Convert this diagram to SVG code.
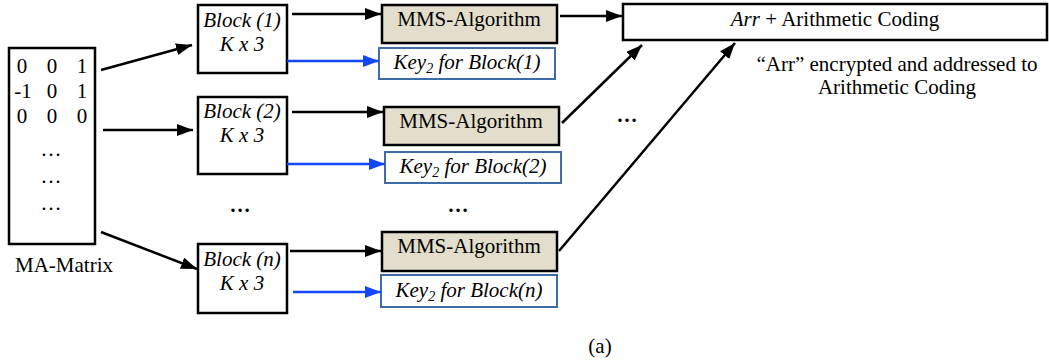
<svg xmlns="http://www.w3.org/2000/svg" width="1049" height="363" viewBox="0 0 1049 363">
<defs>
<marker id="ah" markerUnits="userSpaceOnUse" markerWidth="18" markerHeight="14" refX="16" refY="6" orient="auto">
<path d="M0,0 L16,6 L0,12 z" fill="#000"/>
</marker>
<marker id="ahb" markerUnits="userSpaceOnUse" markerWidth="18" markerHeight="14" refX="16" refY="6" orient="auto">
<path d="M0,0 L16,6 L0,12 z" fill="#1446F5"/>
</marker>
<style>
text{font-family:"Liberation Serif","Times New Roman",serif;font-size:21px;fill:#000}
.it{font-style:italic}
.c{text-anchor:middle}
.box{fill:#fff;stroke:#000;stroke-width:2.5}
.mms{fill:#E3DECC;stroke:#000;stroke-width:2.5}
.key{fill:#fff;stroke:#3E6CA8;stroke-width:2}
.ln{stroke:#000;stroke-width:2.5;fill:none;marker-end:url(#ah)}
.lnp{stroke:#000;stroke-width:2.5;fill:none}
.bl{stroke:#1446F5;stroke-width:2.5;fill:none;marker-end:url(#ahb)}
.dots{font-weight:bold}
</style>
</defs>
<rect width="1049" height="363" fill="#fff"/>

<g id="matrix">
<rect class="box" x="9" y="48" width="86" height="196" stroke-width="2"/>
<text class="c" x="22" y="73">0</text><text class="c" x="52" y="73">0</text><text class="c" x="82" y="73">1</text>
<text class="c" x="23" y="98">-1</text><text class="c" x="52" y="98">0</text><text class="c" x="82" y="98">1</text>
<text class="c" x="22" y="123">0</text><text class="c" x="52" y="123">0</text><text class="c" x="82" y="123">0</text>
<text class="c" x="51" y="156">…</text>
<text class="c" x="51" y="183">…</text>
<text class="c" x="51" y="210">…</text>
<text class="c" x="64" y="272">MA-Matrix</text>
</g>

<g id="block1">
<rect class="box" x="198" y="5" width="89" height="68"/>
<text class="c it" x="242" y="27">Block (1)</text>
<text class="c it" x="242" y="51">K x 3</text>
</g>
<g id="block2">
<rect class="box" x="198" y="97" width="89" height="77"/>
<text class="c it" x="242" y="118">Block (2)</text>
<text class="c it" x="242" y="142">K x 3</text>
</g>
<g id="blockn">
<rect class="box" x="198" y="244" width="89" height="69"/>
<text class="c it" x="242" y="266">Block (n)</text>
<text class="c it" x="242" y="290">K x 3</text>
</g>

<g id="mms1">
<rect class="mms" x="382" y="5" width="175" height="38"/>
<text class="c" x="469" y="26">MMS-Algorithm</text>
</g>
<g id="key1">
<rect class="key" x="379" y="48" width="176" height="31"/>
<text class="c it" x="467" y="69">Key<tspan font-size="14" dy="4">2</tspan><tspan dy="-4"> for Block(1)</tspan></text>
</g>
<g id="mms2">
<rect class="mms" x="384" y="107" width="175" height="38"/>
<text class="c" x="471" y="128">MMS-Algorithm</text>
</g>
<g id="key2">
<rect class="key" x="385" y="152" width="176" height="31"/>
<text class="c it" x="473" y="173">Key<tspan font-size="14" dy="4">2</tspan><tspan dy="-4"> for Block(2)</tspan></text>
</g>
<g id="mmsn">
<rect class="mms" x="382" y="232" width="175" height="39"/>
<text class="c" x="469" y="253">MMS-Algorithm</text>
</g>
<g id="keyn">
<rect class="key" x="381" y="275" width="176" height="32"/>
<text class="c it" x="469" y="297">Key<tspan font-size="14" dy="4">2</tspan><tspan dy="-4"> for Block(n)</tspan></text>
</g>

<g id="arr">
<rect class="box" x="623" y="4" width="424" height="36" stroke-width="2"/>
<text class="c" x="835" y="26"><tspan class="it">Arr</tspan> + Arithmetic Coding</text>
</g>
<g id="note">
<text class="c" x="897" y="71">“Arr” encrypted and addressed to</text>
<text class="c" x="897" y="94">Arithmetic Coding</text>
</g>

<g id="ellipses">
<text class="c dots" x="240" y="212">…</text>
<text class="c dots" x="458" y="212">…</text>
<text class="c dots" x="627" y="122">…</text>
</g>

<g id="connectors">
<line class="ln" x1="101" y1="70" x2="192" y2="45"/>
<line class="ln" x1="103" y1="130" x2="193" y2="130"/>
<line class="ln" x1="101" y1="232" x2="197" y2="269"/>
<line class="ln" x1="292" y1="14" x2="381" y2="14"/>
<line class="bl" x1="287" y1="61" x2="379" y2="61"/>
<line class="ln" x1="292" y1="112" x2="383" y2="112"/>
<line class="bl" x1="287" y1="164" x2="385" y2="164"/>
<line class="ln" x1="290" y1="251" x2="381" y2="251"/>
<line class="bl" x1="293" y1="292" x2="381" y2="292"/>
<line class="ln" x1="560" y1="16" x2="622" y2="16"/>
<line class="ln" x1="562" y1="123" x2="642" y2="45"/>
<line class="ln" x1="559" y1="251" x2="735" y2="43"/>
</g>

<text class="c" x="600" y="353">(a)</text>
</svg>
